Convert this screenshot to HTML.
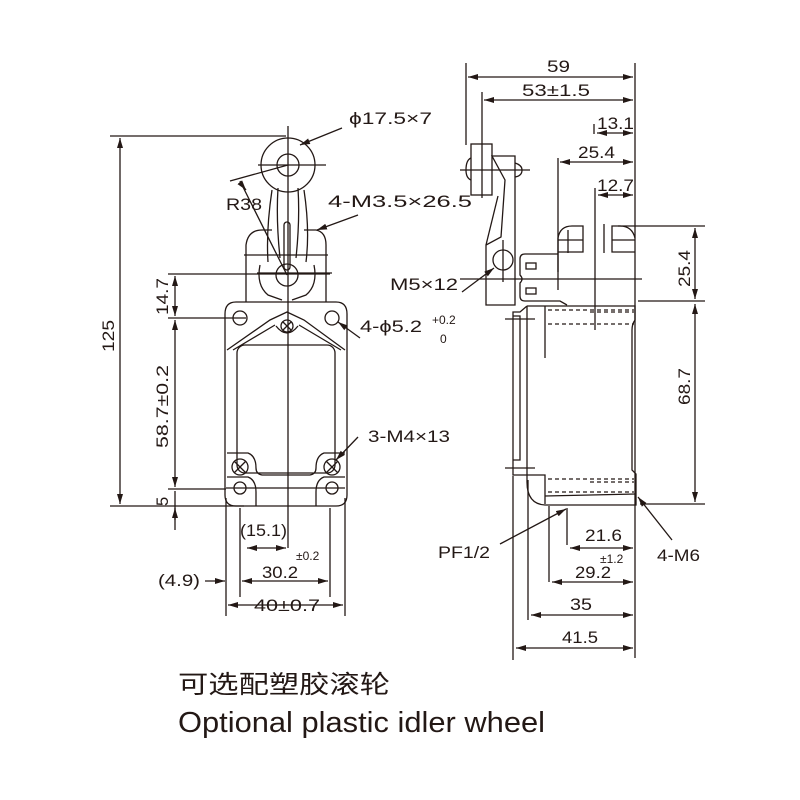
<!DOCTYPE html>
<html><head><meta charset="utf-8"><style>
html,body{margin:0;padding:0;background:#fff;width:800px;height:800px;overflow:hidden}
svg text{font-family:"Liberation Sans","Noto Sans CJK SC",sans-serif;fill:#231815}
</style></head><body>
<svg width="800" height="800" viewBox="0 0 800 800" xmlns="http://www.w3.org/2000/svg">
<defs>
<marker id="a" viewBox="0 0 10 6" refX="10" refY="3" markerWidth="10" markerHeight="6" orient="auto-start-reverse" markerUnits="userSpaceOnUse"><path d="M0,0L10,3L0,6z" fill="#231815"/></marker>
</defs>
<g stroke="#231815" stroke-width="1.3" fill="none">
<!-- LEFT VIEW -->
<line x1="288" y1="126" x2="288" y2="548"/>
<circle cx="288" cy="165" r="27"/>
<circle cx="288" cy="165" r="11"/>
<line x1="258" y1="165" x2="326" y2="165"/>
<path d="M272 190 Q266 230 268 262 M304 190 Q310 230 306 262 M278 188 Q276 220 280 258 M298 188 Q300 220 296 258"/>
<path d="M246 302 L246 245 Q248 230 262 230 L272 230 M304 230 L316 230 Q326 232 326 245 L326 302"/>
<rect x="284" y="222" width="6" height="48" rx="3"/>
<circle cx="287" cy="275" r="11"/>
<path d="M260 265 Q256 285 268 295 L282 300 M314 265 Q318 285 306 295 L292 300"/>
<line x1="244" y1="255" x2="328" y2="255"/>
<line x1="257" y1="273" x2="332" y2="273"/>
<path d="M236 302 L336 302 Q347 302 347 314 L347 495 Q347 506 336 506 L236 506 Q225 506 225 495 L225 314 Q225 302 236 302 Z"/>
<path d="M227 350 L270 320 L287 312 L304 320 L345 350"/>
<path d="M233 350 L275 325 M341 350 L299 325"/>
<path d="M276 326 Q287 340 298 326"/>
<rect x="237" y="345" width="98" height="128" rx="8"/>
<circle cx="240" cy="318" r="7"/><circle cx="332" cy="318" r="7"/>
<circle cx="287" cy="326" r="6"/><path d="M283 322l8 8M291 322l-8 8"/>
<path d="M227 453 L248 453 Q256 456 256 468 Q256 474 262 475 L310 475 Q316 474 316 468 Q316 456 324 453 L345 453"/>
<path d="M227 477 L248 477 Q256 480 256 492 L256 506 M345 477 L324 477 Q316 480 316 492 L316 506"/>
<circle cx="240" cy="467" r="8"/><path d="M234 461l12 12M246 461l-12 12"/>
<circle cx="332" cy="467" r="8"/><path d="M326 461l12 12M338 461l-12 12"/>
<circle cx="240" cy="488" r="6"/><circle cx="332" cy="488" r="6"/>
<line x1="226" y1="488" x2="345" y2="488"/>
<line x1="230" y1="181" x2="288" y2="165"/>
<line x1="240" y1="181" x2="287" y2="275"/>
<line x1="242" y1="185" x2="246" y2="190" marker-end="url(#a)"/>
<line x1="342" y1="128" x2="300" y2="145" marker-end="url(#a)"/>
<line x1="358" y1="215" x2="317" y2="230" marker-end="url(#a)"/>
<line x1="360" y1="338" x2="338" y2="322" marker-end="url(#a)"/>
<line x1="358" y1="437" x2="336" y2="460" marker-end="url(#a)"/>
<line x1="110" y1="136" x2="286" y2="136"/>
<line x1="120" y1="138" x2="120" y2="504" marker-start="url(#a)" marker-end="url(#a)"/>
<line x1="110" y1="506" x2="244" y2="506"/>
<line x1="168" y1="274" x2="330" y2="274"/>
<line x1="168" y1="318" x2="246" y2="318"/>
<line x1="168" y1="489" x2="226" y2="489"/>
<line x1="175" y1="276" x2="175" y2="316" marker-start="url(#a)" marker-end="url(#a)"/>
<line x1="175" y1="320" x2="175" y2="487" marker-start="url(#a)" marker-end="url(#a)"/>
<line x1="175" y1="491" x2="175" y2="530"/>
<line x1="175" y1="520" x2="175" y2="508" marker-end="url(#a)"/>
<line x1="226" y1="498" x2="226" y2="616"/>
<line x1="345" y1="498" x2="345" y2="616"/>
<line x1="240" y1="508" x2="240" y2="597"/>
<line x1="330" y1="508" x2="330" y2="597"/>
<line x1="247" y1="548" x2="286" y2="548" marker-start="url(#a)" marker-end="url(#a)"/>
<line x1="242" y1="581" x2="328" y2="581" marker-start="url(#a)" marker-end="url(#a)"/>
<line x1="205" y1="581" x2="225" y2="581" marker-end="url(#a)"/>
<line x1="228" y1="605" x2="343" y2="605" marker-start="url(#a)" marker-end="url(#a)"/>

<!-- RIGHT VIEW -->
<line x1="635" y1="63" x2="635" y2="658"/>
<line x1="466" y1="63" x2="466" y2="145"/>
<line x1="482" y1="92" x2="482" y2="198"/>
<line x1="468" y1="77" x2="633" y2="77" marker-start="url(#a)" marker-end="url(#a)"/>
<line x1="484" y1="100" x2="633" y2="100" marker-start="url(#a)" marker-end="url(#a)"/>
<line x1="594" y1="124" x2="594" y2="134"/>
<line x1="597" y1="133" x2="633" y2="133" marker-start="url(#a)" marker-end="url(#a)"/>
<line x1="558" y1="158" x2="558" y2="290"/>
<line x1="560" y1="162" x2="633" y2="162" marker-start="url(#a)" marker-end="url(#a)"/>
<line x1="595" y1="188" x2="595" y2="330"/>
<line x1="598" y1="195" x2="633" y2="195" marker-start="url(#a)" marker-end="url(#a)"/>
<rect x="471" y="144" width="21" height="51"/>
<path d="M471 158 Q466 160 466 170 Q466 178 471 180"/>
<line x1="460" y1="170" x2="530" y2="170"/>
<path d="M492 156 L515 156 L515 305 L486 305 L486 245 L501 237 L505 180 Z"/>
<path d="M515 163 Q522 165 522 170 Q522 176 515 177"/>
<path d="M486 245 L498 196"/>
<circle cx="503" cy="260" r="10"/>
<line x1="503" y1="240" x2="503" y2="282"/>
<line x1="460" y1="279" x2="642" y2="279"/>
<path d="M558 272 L558 238 Q560 226 572 226 L583 226 L583 252 L558 252"/>
<path d="M635 238 Q632 226 620 226 L612 226 L612 252 L635 252"/>
<line x1="568" y1="230" x2="568" y2="253"/><line x1="604" y1="224" x2="604" y2="253"/>
<line x1="558" y1="240" x2="583" y2="240"/><line x1="612" y1="240" x2="635" y2="240"/>
<path d="M558 254 L525 254 Q520 254 520 259 L520 275 Q524 279 520 283 L520 296 Q520 301 525 301 L560 301 L567 305"/>
<rect x="526" y="263" width="10" height="6"/><rect x="526" y="288" width="10" height="6"/>
<line x1="638" y1="301" x2="705" y2="301"/>
<line x1="618" y1="226" x2="705" y2="226"/>
<line x1="695" y1="228" x2="695" y2="299" marker-start="url(#a)" marker-end="url(#a)"/>
<line x1="695" y1="304" x2="695" y2="502" marker-start="url(#a)" marker-end="url(#a)"/>
<path d="M527 306 L635 306 L635 320 Q632 324 632 330 L632 470 L636 474 L636 505 L545 505 Q527 504 527 482 L527 306"/>
<path d="M545 306 L545 358"/>
<path d="M527 306 L520 312 L513 312 L513 475 L527 475"/>
<path d="M513 316 L520 316 L520 460 L513 460"/>
<line x1="505" y1="319" x2="535" y2="319"/>
<line x1="505" y1="468" x2="535" y2="468"/>
<path d="M527 475 L545 475 L545 504"/>
<line x1="545" y1="496" x2="636" y2="494"/>
<g stroke-dasharray="4 3"><line x1="548" y1="310" x2="634" y2="310"/><line x1="548" y1="324" x2="634" y2="324"/><line x1="590" y1="312" x2="634" y2="312"/>
<line x1="548" y1="479" x2="634" y2="479"/><line x1="548" y1="492" x2="634" y2="492"/><line x1="590" y1="482" x2="634" y2="482"/></g>
<line x1="640" y1="504" x2="705" y2="504"/>
<line x1="462" y1="292" x2="494" y2="268" marker-end="url(#a)"/>
<line x1="500" y1="544" x2="566" y2="509" marker-end="url(#a)"/>
<line x1="672" y1="540" x2="638" y2="497" marker-end="url(#a)"/>
<line x1="567" y1="508" x2="567" y2="545"/>
<line x1="549" y1="506" x2="549" y2="582"/>
<line x1="528" y1="480" x2="528" y2="620"/>
<line x1="513" y1="476" x2="513" y2="660"/>
<line x1="570" y1="548" x2="633" y2="548" marker-start="url(#a)" marker-end="url(#a)"/>
<line x1="552" y1="582" x2="633" y2="582" marker-start="url(#a)" marker-end="url(#a)"/>
<line x1="531" y1="615" x2="633" y2="615" marker-start="url(#a)" marker-end="url(#a)"/>
<line x1="516" y1="648" x2="633" y2="648" marker-start="url(#a)" marker-end="url(#a)"/>
</g>
<g font-size="16.5" lengthAdjust="spacingAndGlyphs">
<text x="349" y="124" textLength="83" lengthAdjust="spacingAndGlyphs">ϕ17.5×7</text>
<text x="226" y="210" textLength="36" lengthAdjust="spacingAndGlyphs">R38</text>
<text x="328" y="207" textLength="144" lengthAdjust="spacingAndGlyphs">4-M3.5×26.5</text>
<text x="360" y="332" textLength="62" lengthAdjust="spacingAndGlyphs">4-ϕ5.2</text>
<text x="432" y="324" font-size="12">+0.2</text>
<text x="440" y="343" font-size="12">0</text>
<text x="368" y="442" textLength="82" lengthAdjust="spacingAndGlyphs">3-M4×13</text>
<text x="240" y="536" textLength="47" lengthAdjust="spacingAndGlyphs">(15.1)</text>
<text x="262" y="578" textLength="36" lengthAdjust="spacingAndGlyphs">30.2</text>
<text x="296" y="560" font-size="12">±0.2</text>
<text x="158" y="586" textLength="42" lengthAdjust="spacingAndGlyphs">(4.9)</text>
<text x="254" y="611" textLength="66" lengthAdjust="spacingAndGlyphs">40±0.7</text>
<text transform="translate(114,352) rotate(-90)" textLength="32" lengthAdjust="spacingAndGlyphs">125</text>
<text transform="translate(168,315) rotate(-90)" textLength="37" lengthAdjust="spacingAndGlyphs">14.7</text>
<text transform="translate(168,448) rotate(-90)" textLength="83" lengthAdjust="spacingAndGlyphs">58.7±0.2</text>
<text transform="translate(168,506) rotate(-90)">5</text>
<text x="547" y="72" textLength="23" lengthAdjust="spacingAndGlyphs">59</text>
<text x="522" y="96" textLength="68" lengthAdjust="spacingAndGlyphs">53±1.5</text>
<text x="597" y="129" textLength="37" lengthAdjust="spacingAndGlyphs">13.1</text>
<text x="578" y="158" textLength="37" lengthAdjust="spacingAndGlyphs">25.4</text>
<text x="597" y="191" textLength="37" lengthAdjust="spacingAndGlyphs">12.7</text>
<text x="390" y="290" textLength="68" lengthAdjust="spacingAndGlyphs">M5×12</text>
<text transform="translate(690,287) rotate(-90)" textLength="37" lengthAdjust="spacingAndGlyphs">25.4</text>
<text transform="translate(690,405) rotate(-90)" textLength="37" lengthAdjust="spacingAndGlyphs">68.7</text>
<text x="438" y="558" textLength="52" lengthAdjust="spacingAndGlyphs">PF1/2</text>
<text x="657" y="561" textLength="43" lengthAdjust="spacingAndGlyphs">4-M6</text>
<text x="585" y="541" textLength="37" lengthAdjust="spacingAndGlyphs">21.6</text>
<text x="575" y="578" textLength="36" lengthAdjust="spacingAndGlyphs">29.2</text>
<text x="600" y="563" font-size="12">±1.2</text>
<text x="570" y="610" textLength="22" lengthAdjust="spacingAndGlyphs">35</text>
<text x="562" y="643" textLength="36" lengthAdjust="spacingAndGlyphs">41.5</text>
</g>
<text x="178" y="693" font-size="25" textLength="212" lengthAdjust="spacingAndGlyphs">可选配塑胶滚轮</text>
<text x="178" y="732" font-size="29" textLength="367" lengthAdjust="spacingAndGlyphs">Optional plastic idler wheel</text>
</svg>
</body></html>
